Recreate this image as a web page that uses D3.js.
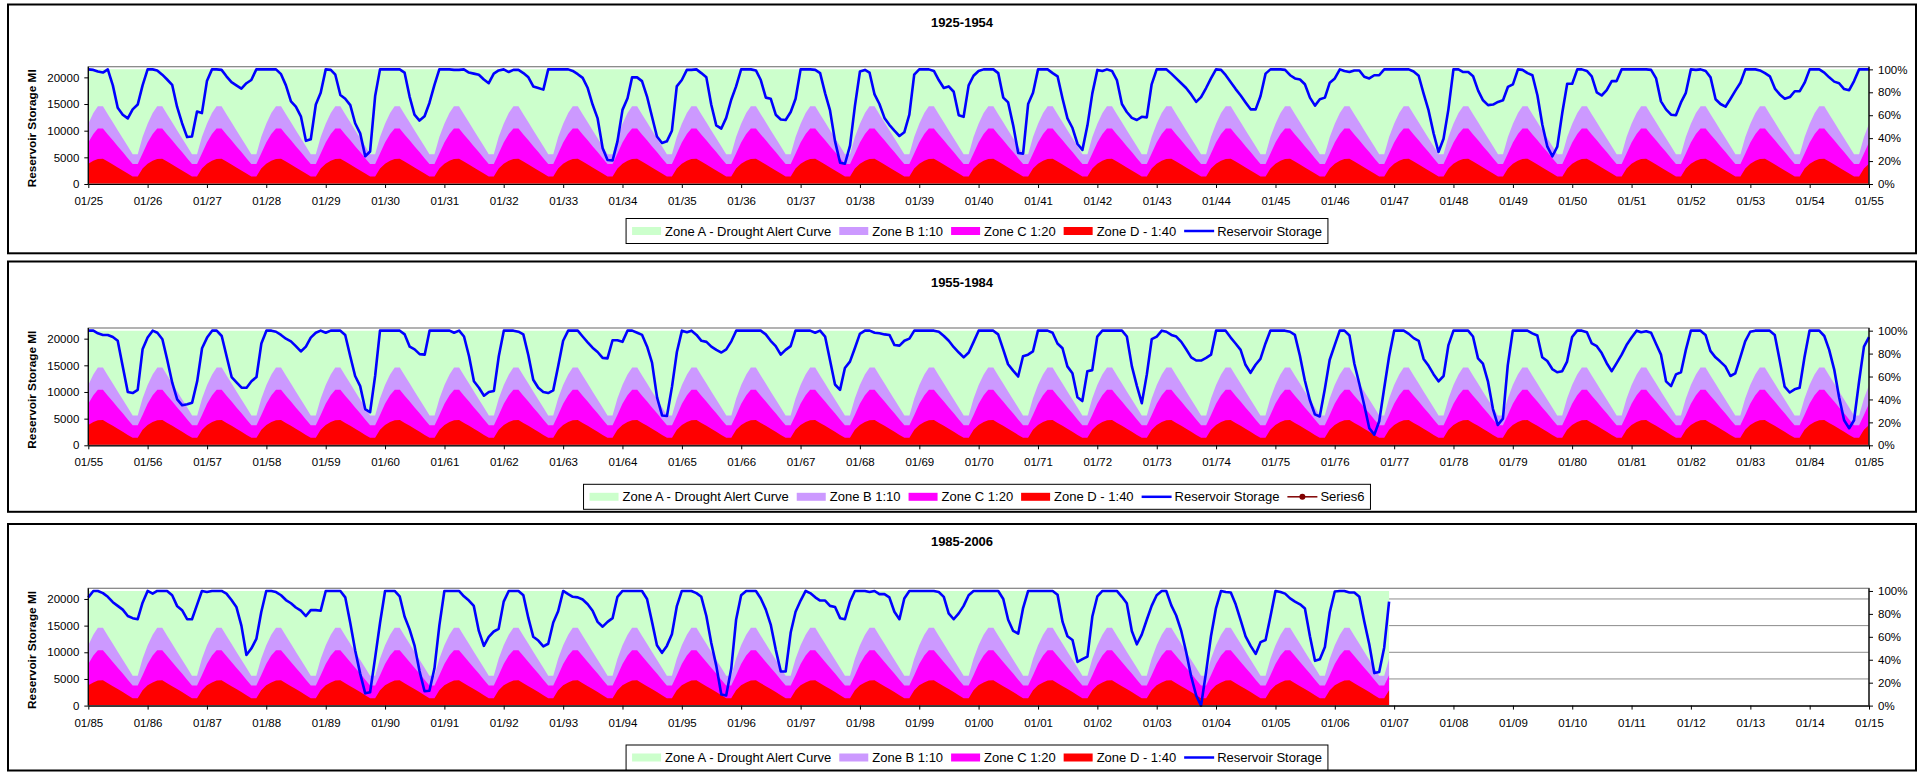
<!DOCTYPE html>
<html>
<head>
<meta charset="utf-8">
<script src="https://cdn.jsdelivr.net/npm/d3@7"></script>
<style>
  body { margin: 0; background: #ffffff; }
  svg { display: block; }
  text { font-family: "Liberation Sans", Arial, Helvetica, sans-serif; fill: #000; }
</style>
</head>
<body>
<svg id="chart" width="1924" height="772"></svg>
<script>
// ---------------------------------------------------------------
// Data
// ---------------------------------------------------------------
const panelTitles = ["1925-1954", "1955-1984", "1985-2006"];
const panelStartYears = [1925, 1955, 1985];
const reservoirCapacity = 21500;           // Ml, equals 100 %

// Control curves (Ml), one value per month Jan..Dec, repeated each year
const zoneA = [21500, 21500, 21500, 21500, 21500, 21500, 21500, 21500, 21500, 21500, 21500, 21500];
const zoneB = [11300, 13300, 14600, 14600, 13100, 11600, 10100, 8600, 7100, 5600, 5600, 8800];
const zoneC = [7800, 9400, 10400, 10400, 9300, 8200, 7100, 6000, 4850, 3750, 3750, 5700];
const zoneD = [3800, 4350, 4700, 4750, 4200, 3650, 3100, 2550, 1950, 1400, 1400, 2900];

// Reservoir storage (Ml), monthly, one row per year Jan..Dec
const storage1925 = [
  [21500, 21400, 21100, 20900, 21500, 18500, 14300, 13000, 12300, 14000, 14900, 18500],
  [21500, 21500, 21300, 20500, 19600, 18600, 14500, 11400, 8800, 8900, 13600, 13300],
  [19300, 21500, 21500, 21400, 20200, 19100, 18500, 17900, 18900, 19500, 21500, 21500],
  [21500, 21500, 21500, 20600, 18500, 15500, 14500, 12700, 8100, 8400, 14900, 17100],
  [21500, 21400, 20500, 16700, 16000, 14800, 11400, 9500, 5200, 6100, 16500, 21500],
  [21500, 21500, 21500, 21500, 20900, 16400, 13000, 11900, 12700, 15200, 18600, 21500],
  [21500, 21500, 21400, 21400, 21500, 20900, 20700, 20500, 19600, 18900, 20700, 21300],
  [21500, 21000, 21400, 21400, 20800, 20000, 18300, 18000, 17700, 21500, 21500, 21500],
  [21500, 21500, 21200, 20600, 19900, 18000, 14900, 12300, 6700, 4500, 4400, 8000],
  [13900, 16100, 20000, 20000, 19300, 16400, 12700, 8900, 7700, 8000, 10000, 18300],
  [19500, 21400, 21400, 21500, 20800, 20000, 14900, 11000, 10400, 12400, 15800, 18300],
  [21500, 21500, 21500, 21300, 19500, 16200, 16000, 13000, 12100, 12000, 13500, 16000],
  [21500, 21500, 21500, 21400, 20800, 17000, 13800, 8000, 4000, 3800, 7200, 14600],
  [21100, 21400, 20900, 16800, 15000, 12400, 11100, 10000, 9000, 9700, 13000, 20500],
  [21500, 21500, 21500, 21200, 19500, 18000, 18300, 17300, 12900, 12600, 18500, 20300],
  [21200, 21500, 21500, 21500, 20800, 16200, 15300, 11000, 5800, 5700, 15000, 17100],
  [21500, 21500, 21500, 20800, 20200, 16000, 12300, 10500, 7500, 6400, 11000, 17000],
  [21400, 21200, 21500, 21200, 19500, 15000, 13500, 12400, 12000, 12600, 12500, 18700],
  [21500, 21500, 21500, 20700, 19800, 18900, 18000, 16800, 15400, 16300, 18000, 19800],
  [21500, 21400, 20400, 19100, 17800, 16600, 15300, 14000, 14000, 16500, 20700, 21500],
  [21500, 21500, 21400, 20400, 19800, 19600, 18700, 16200, 14700, 15900, 16200, 19000],
  [19800, 21500, 21200, 21000, 21300, 21300, 20100, 19800, 20400, 20400, 21500, 21500],
  [21500, 21500, 21500, 21500, 21100, 20300, 17000, 13800, 9500, 6000, 8500, 14000],
  [21500, 21500, 21000, 21000, 20200, 17500, 15700, 14800, 14900, 15400, 15700, 18200],
  [18700, 21500, 21400, 20800, 20400, 16600, 11100, 7000, 5200, 7000, 13400, 18800],
  [18800, 21500, 21500, 21200, 20200, 17200, 16600, 17600, 19300, 19300, 21500, 21500],
  [21500, 21500, 21500, 21500, 21400, 19800, 15500, 14000, 13000, 12900, 15300, 17100],
  [21500, 21400, 21500, 21200, 20000, 15900, 15000, 14500, 16000, 17500, 19000, 21500],
  [21500, 21500, 21300, 20800, 20200, 17900, 16800, 16000, 16300, 17400, 17400, 19000],
  [21500, 21500, 21500, 20900, 20000, 19200, 18900, 17800, 17600, 19300, 21500, 21500]
];

const storage1955 = [
  [21500, 21500, 21000, 20700, 20700, 20300, 19600, 14800, 10000, 9800, 10400, 18000],
  [20200, 21500, 21100, 19900, 16000, 11700, 8600, 7500, 7700, 8000, 12000, 18200],
  [20200, 21500, 21500, 20500, 16700, 12800, 11800, 10800, 10800, 12000, 12800, 19100],
  [21500, 21500, 21300, 20700, 20000, 19500, 18600, 17600, 18500, 20200, 21100, 21500],
  [21100, 21500, 21500, 21500, 20700, 16700, 13000, 11100, 6800, 6200, 13000, 21500],
  [21500, 21500, 21500, 21500, 20800, 18500, 18000, 17100, 17000, 21500, 21500, 21500],
  [21500, 21500, 21100, 21500, 20400, 16700, 12000, 10800, 9300, 10000, 10200, 16700],
  [21500, 21500, 21500, 21300, 20800, 16900, 12300, 10800, 10000, 9800, 10300, 14800],
  [19600, 21500, 21500, 21500, 20400, 19300, 18300, 17500, 16400, 16300, 19700, 19700],
  [19400, 21500, 21500, 21100, 20700, 18500, 15500, 9000, 5600, 5500, 11000, 17500],
  [21500, 21200, 21500, 20700, 19600, 19400, 18500, 17900, 17400, 18000, 19500, 21500],
  [21500, 21500, 21500, 21500, 21500, 20800, 19600, 18600, 17000, 17900, 18600, 21500],
  [21500, 21500, 21500, 21100, 21500, 20400, 16000, 11400, 10400, 14500, 15700, 18200],
  [20900, 21500, 21500, 21100, 21000, 20800, 20700, 18800, 18700, 19600, 20000, 21500],
  [21500, 21500, 21500, 21500, 21300, 20500, 19600, 18400, 17400, 16500, 17400, 19400],
  [21500, 21500, 21500, 21500, 20800, 18000, 15200, 14000, 12900, 16700, 17000, 17600],
  [21500, 21500, 21500, 21100, 19100, 18200, 14800, 13500, 9000, 8300, 13900, 14100],
  [20400, 21500, 21500, 21500, 21500, 21500, 20400, 14800, 11100, 7900, 13300, 19900],
  [20400, 21500, 21300, 20700, 20400, 19400, 18000, 16500, 15900, 15900, 16400, 17000],
  [21500, 21500, 21500, 20200, 19100, 17900, 15100, 13600, 15100, 16200, 19100, 21500],
  [21500, 21500, 21500, 21300, 20700, 16800, 12200, 8500, 5800, 5400, 10500, 16000],
  [18800, 21500, 21500, 20600, 15300, 11500, 7500, 3200, 2000, 4500, 10800, 16700],
  [21500, 21500, 21500, 20900, 20100, 19600, 16200, 14900, 13300, 12000, 13000, 18800],
  [21500, 21500, 21500, 21500, 20400, 16300, 15300, 12000, 6800, 3800, 5000, 15000],
  [21500, 21500, 21500, 21500, 21000, 20600, 16500, 15800, 14300, 13700, 13900, 15700],
  [20300, 21500, 21500, 21200, 19100, 18600, 17300, 15400, 13900, 15400, 17000, 18800],
  [20200, 21500, 21200, 21400, 21100, 19000, 17000, 12000, 11100, 13300, 13700, 17900],
  [21500, 21500, 21500, 20700, 17700, 16500, 15700, 14800, 13000, 13500, 16500, 19500],
  [21300, 21500, 21500, 21500, 21500, 20700, 16000, 11000, 9900, 10500, 10800, 16500],
  [21500, 21500, 21500, 20500, 17900, 14200, 9000, 4700, 3200, 4700, 12000, 18500]
];

const storage1985 = [
  [20300, 21500, 21500, 21100, 20400, 19400, 18700, 18000, 16800, 16400, 16200, 19300],
  [21500, 21000, 21500, 21500, 21500, 20700, 18700, 17900, 16200, 16200, 18900, 21500],
  [21300, 21500, 21500, 21500, 21000, 19800, 18500, 15000, 9500, 10700, 12500, 17500],
  [21500, 21500, 21300, 20700, 19800, 19200, 18400, 17800, 16800, 17900, 17900, 17800],
  [21500, 21500, 21500, 21500, 20300, 15500, 10400, 6000, 2300, 2500, 9000, 15500],
  [21500, 21500, 21500, 20500, 16700, 14300, 11300, 6500, 2700, 2800, 7000, 15000],
  [21500, 21500, 21500, 21500, 20500, 19700, 18700, 14000, 11200, 12900, 13900, 14400],
  [19500, 21500, 21500, 21500, 20700, 16400, 12900, 12200, 11100, 11600, 15600, 17700],
  [21500, 20900, 20400, 20300, 19900, 19000, 17800, 15700, 14800, 15700, 16400, 20400],
  [21500, 21500, 21500, 21500, 21500, 20000, 15800, 11300, 9900, 11200, 13400, 18600],
  [21500, 21500, 21500, 21100, 20400, 16800, 11800, 7500, 2100, 1900, 6900, 16100],
  [20700, 21500, 21500, 21500, 20100, 18000, 15200, 10500, 6400, 6400, 13700, 17600],
  [19700, 21500, 21100, 20300, 19700, 19700, 18700, 18500, 16400, 16200, 19500, 21500],
  [21500, 21500, 21300, 21500, 20900, 20900, 20300, 17600, 16200, 20100, 21500, 21500],
  [21500, 21500, 21500, 21500, 21300, 20400, 17300, 16200, 17300, 18700, 20700, 21500],
  [21500, 21500, 21500, 21500, 21500, 20000, 16100, 14000, 13500, 18300, 21500, 21500],
  [21500, 21500, 21500, 21500, 20800, 15700, 13000, 12300, 8200, 8700, 9200, 16700],
  [20500, 21500, 21500, 21500, 21500, 20400, 19200, 14000, 11500, 13300, 16100, 18700],
  [20700, 21500, 21500, 18800, 16900, 14000, 10100, 5500, 1900, 0, 6300, 13000],
  [18300, 21500, 21300, 21200, 19000, 16000, 13000, 11200, 9700, 11900, 12300, 16700],
  [21500, 21300, 21000, 20100, 19500, 19000, 18200, 13000, 8400, 8700, 11000, 17500],
  [21400, 21500, 21500, 21200, 21200, 20400, 15800, 11500, 6100, 6300, 10900, 19500]
];

const series6 = [];   // empty series, legend entry only

const leftTicks = [0, 5000, 10000, 15000, 20000];
const rightTicks = [0, 0.2, 0.4, 0.6, 0.8, 1.0];
const leftMax = 22000;

const zoneColors = { A: "#CCFFCC", B: "#CC99FF", C: "#FF00FF", D: "#FF0000" };
const storageColor = "#0000FF";
const series6Color = "#800000";

// ---------------------------------------------------------------
// Layout
// ---------------------------------------------------------------
const frameLeft = 8, frameRight = 1916;
const plotLeft = 88.3, plotRight = 1869;
const panelLayout = [
  { boxTop: 4.5,   boxBottom: 253.3, plotTop: 66.7,  plotBottom: 184,   titleY: 22,    legendTop: 218.5 },
  { boxTop: 261.5, boxBottom: 511.8, plotTop: 328,   plotBottom: 445.3, titleY: 282.3, legendTop: 484.3 },
  { boxTop: 524,   boxBottom: 770.5, plotTop: 588.3, plotBottom: 705.6, titleY: 541.2, legendTop: 745 }
];

// ---------------------------------------------------------------
// Helpers
// ---------------------------------------------------------------
function monthlySeries(startYear, rows, tailValue) {
  const pts = [];
  rows.forEach((row, i) => row.forEach((v, m) => {
    pts.push({ date: new Date(Date.UTC(startYear + i, m, 1)), month: m, value: v });
  }));
  if (tailValue != null) {
    pts.push({ date: new Date(Date.UTC(startYear + rows.length, 0, 1)), month: 0, value: tailValue });
  }
  return pts;
}

const panelSeries = [
  monthlySeries(panelStartYears[0], storage1925, storage1955[0][0]),
  monthlySeries(panelStartYears[1], storage1955, storage1985[0][0]),
  monthlySeries(panelStartYears[2], storage1985, null)
];

const svg = d3.select("#chart");

function drawLegend(g, cx, top, withSeries6) {
  const items = [
    { label: "Zone A - Drought Alert Curve", kind: "area", color: zoneColors.A },
    { label: "Zone B 1:10", kind: "area", color: zoneColors.B },
    { label: "Zone C 1:20", kind: "area", color: zoneColors.C },
    { label: "Zone D - 1:40", kind: "area", color: zoneColors.D },
    { label: "Reservoir Storage", kind: "line", color: storageColor }
  ];
  if (withSeries6) items.push({ label: "Series6", kind: "marker", color: series6Color });

  const h = 25, pad = 6, symW = 29, gap = 8;
  const lg = g.append("g");
  const box = lg.append("rect");
  const inner = lg.append("g");
  let xPos = 0;
  items.forEach(it => {
    const e = inner.append("g").attr("transform", `translate(${xPos},0)`);
    if (it.kind === "area") {
      e.append("rect").attr("x", 0).attr("y", -4).attr("width", symW).attr("height", 8).attr("fill", it.color);
    } else {
      e.append("line").attr("x1", 0).attr("x2", symW + 1).attr("y1", 0).attr("y2", 0)
        .attr("stroke", it.color).attr("stroke-width", it.kind === "line" ? 2.5 : 1.5);
      if (it.kind === "marker") {
        e.append("circle").attr("cx", (symW + 1) / 2).attr("cy", 0).attr("r", 3).attr("fill", it.color);
      }
    }
    const t = e.append("text").attr("x", symW + 4).attr("y", 0).attr("dy", "0.35em")
      .style("font-size", "13px").text(it.label);
    xPos += symW + 4 + t.node().getComputedTextLength() + gap;
  });
  const contentW = xPos - gap;
  const totalW = contentW + pad * 2;
  const left = cx - totalW / 2;
  box.attr("x", left).attr("y", top).attr("width", totalW).attr("height", h)
    .attr("fill", "#fff").attr("stroke", "#000").attr("stroke-width", 1);
  inner.attr("transform", `translate(${left + pad},${top + h / 2})`);
}

// ---------------------------------------------------------------
// Panels
// ---------------------------------------------------------------
panelLayout.forEach((L, pi) => {
  const g = svg.append("g");
  const startYear = panelStartYears[pi];
  const data = panelSeries[pi];

  // chart frame
  g.append("rect")
    .attr("x", frameLeft).attr("y", L.boxTop)
    .attr("width", frameRight - frameLeft).attr("height", L.boxBottom - L.boxTop)
    .attr("fill", "#fff").attr("stroke", "#000").attr("stroke-width", 2);

  const x = d3.scaleUtc()
    .domain([new Date(Date.UTC(startYear, 0, 1)), new Date(Date.UTC(startYear + 30, 0, 1))])
    .range([plotLeft, plotRight]);
  const y = d3.scaleLinear().domain([0, leftMax]).range([L.plotBottom, L.plotTop]);
  const yPct = d3.scaleLinear().domain([0, leftMax / reservoirCapacity]).range([L.plotBottom, L.plotTop]);

  // horizontal gridlines
  g.append("g").selectAll("line").data(leftTicks.filter(v => v > 0)).join("line")
    .attr("x1", plotLeft).attr("x2", plotRight)
    .attr("y1", d => y(d)).attr("y2", d => y(d))
    .attr("stroke", "#8c8c8c").attr("stroke-width", 1);

  // control zones, drawn back to front
  [[zoneA, zoneColors.A], [zoneB, zoneColors.B], [zoneC, zoneColors.C], [zoneD, zoneColors.D]]
    .forEach(([zone, color]) => {
      const area = d3.area()
        .x(d => x(d.date))
        .y0(y(0))
        .y1(d => y(zone[d.month]));
      g.append("path").datum(data).attr("d", area).attr("fill", color);
    });

  // plot area border
  g.append("rect")
    .attr("x", plotLeft).attr("y", L.plotTop)
    .attr("width", plotRight - plotLeft).attr("height", L.plotBottom - L.plotTop)
    .attr("fill", "none").attr("stroke", "#808080").attr("stroke-width", 1.2);

  // reservoir storage line
  const line = d3.line().x(d => x(d.date)).y(d => y(d.value));
  g.append("path").datum(data).attr("d", line)
    .attr("fill", "none").attr("stroke", storageColor)
    .attr("stroke-width", 2.6).attr("stroke-linejoin", "round");

  // empty series (legend only in middle panel)
  if (pi === 1) {
    g.append("path").datum(series6).attr("d", line)
      .attr("fill", "none").attr("stroke", series6Color).attr("stroke-width", 1.5);
  }

  // axes
  const yearTicks = d3.utcYear.range(new Date(Date.UTC(startYear, 0, 1)), new Date(Date.UTC(startYear + 30, 0, 2)));
  const xAxis = d3.axisBottom(x).tickValues(yearTicks).tickFormat(d3.utcFormat("%m/%y"))
    .tickSize(4).tickSizeOuter(0).tickPadding(9);
  const gx = g.append("g").attr("transform", `translate(0,${L.plotBottom})`).call(xAxis);

  const yAxis = d3.axisLeft(y).tickValues(leftTicks).tickFormat(d3.format("d"))
    .tickSize(4).tickSizeOuter(0).tickPadding(5);
  const gy = g.append("g").attr("transform", `translate(${plotLeft},0)`).call(yAxis);

  const yAxisR = d3.axisRight(yPct).tickValues(rightTicks).tickFormat(d3.format(".0%"))
    .tickSize(4).tickSizeOuter(0).tickPadding(5);
  const gyr = g.append("g").attr("transform", `translate(${plotRight},0)`).call(yAxisR);

  [gx, gy, gyr].forEach(a => {
    a.selectAll("text").style("font-size", "11.5px").attr("fill", "#000");
    a.selectAll("line").attr("stroke", "#000");
    a.select(".domain").attr("stroke", "#000").attr("stroke-width", 1.2);
  });
  // left axis spans the full plot height
  gy.select(".domain").attr("d", `M0,${L.plotBottom}V${L.plotTop}`);
  gyr.select(".domain").attr("d", `M0,${L.plotBottom}V${L.plotTop}`);

  // axis title
  g.append("text")
    .attr("transform", `translate(32.3,${(L.plotTop + L.plotBottom) / 2 + 3}) rotate(-90)`)
    .attr("text-anchor", "middle").attr("dy", "0.35em")
    .style("font-size", "11.8px").style("font-weight", "bold")
    .text("Reservoir Storage Ml");

  // panel title
  g.append("text")
    .attr("x", (frameLeft + frameRight) / 2).attr("y", L.titleY).attr("dy", "0.35em")
    .attr("text-anchor", "middle")
    .style("font-size", "13px").style("font-weight", "bold")
    .text(panelTitles[pi]);

  drawLegend(g, 977, L.legendTop, pi === 1);
});
</script>
</body>
</html>
